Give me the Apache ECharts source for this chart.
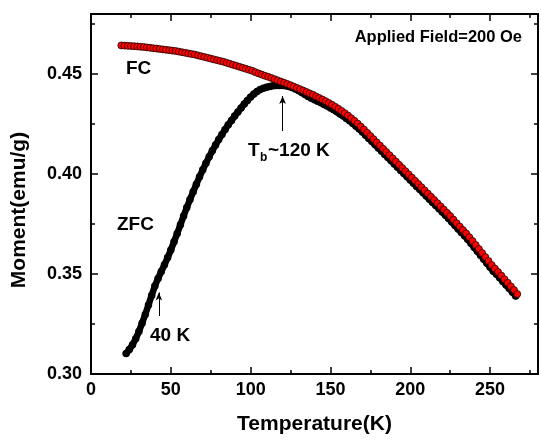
<!DOCTYPE html>
<html><head><meta charset="utf-8">
<script src="https://cdn.jsdelivr.net/npm/echarts@6/dist/echarts.min.js"></script>
<style>html,body{margin:0;padding:0;background:#fff}#c{width:541px;height:440px}</style>
</head><body><div id="c"></div>
<script>
// Field-cooled (FC) curve: temperature (K) and moment (emu/g)
const fcT = [19,21,23,25,27,29,31,33,35,37,39,41,43,45,47,49,51,53,55,57,59,61,63,65,67,69,71,73,75,77,79,81,83,85,87,89,91,93,95,97,99,101,103,105,107,109,111,113,115,117,119,121,123,125,127,129,131,133,135,137,139,141,143,145,147,149,151,153,155,157,159,161,163,165,167,169,171,173,175,177,179,181,183,185,187,189,191,193,195,197,199,201,203,205,207,209,211,213,215,217,219,221,223,225,227,229,231,233,235,237,239,241,243,245,247,249,251,253,255,257,259,261,263,265,267];
const fcM = [0.4643,0.4642,0.4641,0.4640,0.4639,0.4638,0.4636,0.4635,0.4633,0.4631,0.4629,0.4627,0.4625,0.4623,0.4621,0.4619,0.4617,0.4615,0.4612,0.4609,0.4606,0.4603,0.4600,0.4597,0.4593,0.4589,0.4585,0.4581,0.4577,0.4573,0.4569,0.4565,0.4561,0.4556,0.4551,0.4546,0.4541,0.4536,0.4531,0.4526,0.4521,0.4516,0.4509,0.4503,0.4497,0.4491,0.4486,0.4480,0.4474,0.4468,0.4462,0.4456,0.4450,0.4444,0.4437,0.4430,0.4424,0.4417,0.4410,0.4403,0.4396,0.4388,0.4380,0.4372,0.4364,0.4355,0.4346,0.4336,0.4326,0.4315,0.4304,0.4292,0.4279,0.4266,0.4252,0.4237,0.4222,0.4206,0.4190,0.4174,0.4158,0.4142,0.4126,0.4110,0.4094,0.4078,0.4062,0.4046,0.4030,0.4014,0.3998,0.3982,0.3966,0.3950,0.3934,0.3918,0.3902,0.3886,0.3870,0.3854,0.3838,0.3822,0.3806,0.3790,0.3772,0.3754,0.3737,0.3720,0.3703,0.3684,0.3665,0.3645,0.3625,0.3605,0.3585,0.3565,0.3545,0.3527,0.3510,0.3492,0.3474,0.3456,0.3438,0.3420,0.3400];
// Zero-field-cooled (ZFC) curve
const zfcT = [22,24,26,28,30,32,34,36,38,40,42,44,46,48,50,52,54,56,58,60,62,64,66,68,70,72,74,76,78,80,82,84,86,88,90,92,94,96,98,100,102,104,106,108,110,112,114,116,118,120,122,124,126,128,130,132,134,136,138,140,142,144,146,148,150,152,154,156,158,160,162,164,166,168,170,172,174,176,178,180,182,184,186,188,190,192,194,196,198,200,202,204,206,208,210,212,214,216,218,220,222,224,226,228,230,232,234,236,238,240,242,244,246,248,250,252,254,256,258,260,262,264,266];
const zfcM = [0.3102,0.3122,0.3146,0.3176,0.3212,0.3254,0.3298,0.3345,0.3393,0.3440,0.3478,0.3512,0.3546,0.3582,0.3620,0.3661,0.3703,0.3746,0.3790,0.3832,0.3872,0.3911,0.3949,0.3986,0.4021,0.4054,0.4086,0.4116,0.4145,0.4172,0.4197,0.4222,0.4246,0.4268,0.4290,0.4310,0.4330,0.4350,0.4368,0.4385,0.4400,0.4412,0.4422,0.4429,0.4434,0.4438,0.4441,0.4443,0.4443,0.4443,0.4441,0.4437,0.4432,0.4425,0.4417,0.4408,0.4398,0.4388,0.4379,0.4371,0.4364,0.4356,0.4348,0.4340,0.4330,0.4321,0.4311,0.4300,0.4290,0.4278,0.4266,0.4253,0.4239,0.4225,0.4210,0.4194,0.4178,0.4162,0.4146,0.4130,0.4114,0.4098,0.4082,0.4066,0.4050,0.4034,0.4018,0.4002,0.3986,0.3970,0.3954,0.3938,0.3922,0.3906,0.3890,0.3874,0.3858,0.3842,0.3826,0.3810,0.3794,0.3778,0.3760,0.3742,0.3725,0.3708,0.3691,0.3673,0.3654,0.3634,0.3614,0.3594,0.3574,0.3554,0.3534,0.3514,0.3499,0.3481,0.3463,0.3445,0.3427,0.3409,0.3390];
// Axis ticks
const xTickLabels = [0, 50, 100, 150, 200, 250];
const yTickLabels = ['0.30', '0.35', '0.40', '0.45'];
// Annotation arrows (data coordinates)
const arrowTb = {T: 120, from: 0.4390, to: 0.4215};
const arrow40 = {T: 42.5, from: 0.3408, to: 0.3290};

const FONT = '"Liberation Sans", Arial, Helvetica, sans-serif';
const X = {min: 0, max: 280};
const Y = {min: 0.30, max: 0.48};

function xAxisCfg(pos, major, showLabel) {
  return {
    type: 'value', position: pos, min: X.min, max: X.max,
    interval: major ? 50 : 25,
    axisLine: {show: major, onZero: false, lineStyle: {color: '#000', width: 2}},
    axisTick: {show: true, inside: true, length: major ? 7 : 4, lineStyle: {color: '#000', width: 1.5}},
    axisLabel: {show: showLabel, color: '#000', fontSize: 18, fontWeight: 'bold', fontFamily: FONT, margin: 7,
      formatter: v => xTickLabels.indexOf(Math.round(v)) >= 0 && Math.abs(v - Math.round(v)) < 1e-6 ? String(Math.round(v)) : ''},
    splitLine: {show: false},
    name: showLabel ? 'Temperature(K)' : '',
    nameLocation: 'middle', nameGap: 40,
    nameTextStyle: {color: '#000', fontSize: 21, fontWeight: 'bold', fontFamily: FONT}
  };
}
function yAxisCfg(pos, major, showLabel) {
  return {
    type: 'value', position: pos, min: Y.min, max: Y.max,
    interval: major ? 0.05 : 0.025,
    axisLine: {show: major, onZero: false, lineStyle: {color: '#000', width: 2}},
    axisTick: {show: true, inside: true, length: major ? 7 : 4, lineStyle: {color: '#000', width: 1.5}},
    axisLabel: {show: showLabel, color: '#000', fontSize: 18, fontWeight: 'bold', fontFamily: FONT, margin: 9,
      formatter: v => { const s = v.toFixed(2); return (yTickLabels.indexOf(s) >= 0 && Math.abs(v - parseFloat(s)) < 1e-6) ? s : ''; }},
    splitLine: {show: false}
  };
}

const chart = echarts.init(document.getElementById('c'), null, {renderer: 'canvas'});
const txt = (x, y, text, size, extra) => Object.assign({
  type: 'text', x: x, y: y, silent: true, z: 100,
  style: {text: text, fill: '#000', font: 'bold ' + size + 'px ' + FONT, verticalAlign: 'middle', align: 'left'}
}, extra || {});

chart.setOption({
  animation: false,
  backgroundColor: '#fff',
  grid: {left: 91, right: 2, top: 14, bottom: 63, containLabel: false},
  xAxis: [xAxisCfg('bottom', true, true), xAxisCfg('bottom', false, false), xAxisCfg('top', true, false), xAxisCfg('top', false, false)],
  yAxis: [yAxisCfg('left', true, true), yAxisCfg('left', false, false), yAxisCfg('right', true, false), yAxisCfg('right', false, false)],
  series: [
    {
      name: 'ZFC', type: 'line', xAxisIndex: 0, yAxisIndex: 0,
      data: zfcT.map((t, i) => [t, zfcM[i]]),
      symbol: 'circle', symbolSize: 7.5, showAllSymbol: true,
      itemStyle: {color: '#000'},
      lineStyle: {color: '#000', width: 6.5, cap: 'round', join: 'round'}, z: 2
    },
    {
      name: 'FC', type: 'scatter', xAxisIndex: 0, yAxisIndex: 0,
      data: fcT.map((t, i) => [t, fcM[i]]),
      symbol: 'circle', symbolSize: 7,
      itemStyle: {color: '#ff0000', borderColor: '#000', borderWidth: 0.7, opacity: 1}, z: 3,
      markLine: {
        silent: true, animation: false,
        symbol: ['arrow', 'none'], symbolSize: [5, 8],
        lineStyle: {color: '#000', width: 1, type: 'solid'},
        label: {show: false},
        data: [
          [{coord: [arrowTb.T, arrowTb.from]}, {coord: [arrowTb.T, arrowTb.to]}],
          [{coord: [arrow40.T, arrow40.from]}, {coord: [arrow40.T, arrow40.to]}]
        ]
      }
    }
  ],
  graphic: [
    txt(522, 37, 'Applied Field=200 Oe', 16.5, {style: {text: 'Applied Field=200 Oe', fill: '#000', font: 'bold 16.5px ' + FONT, verticalAlign: 'middle', align: 'right'}}),
    txt(126, 69, 'FC', 19),
    txt(117, 225, 'ZFC', 19),
    txt(150, 336, '40 K', 19),
    txt(248, 151, 'T', 19),
    txt(260, 158, 'b', 12),
    txt(268, 151, '~120 K', 19),
    {type: 'text', x: 19, y: 210, rotation: Math.PI / 2, silent: true,
     style: {text: 'Moment(emu/g)', fill: '#000', font: 'bold 21px ' + FONT, align: 'center', verticalAlign: 'middle'}}
  ]
});
</script>
</body></html>
